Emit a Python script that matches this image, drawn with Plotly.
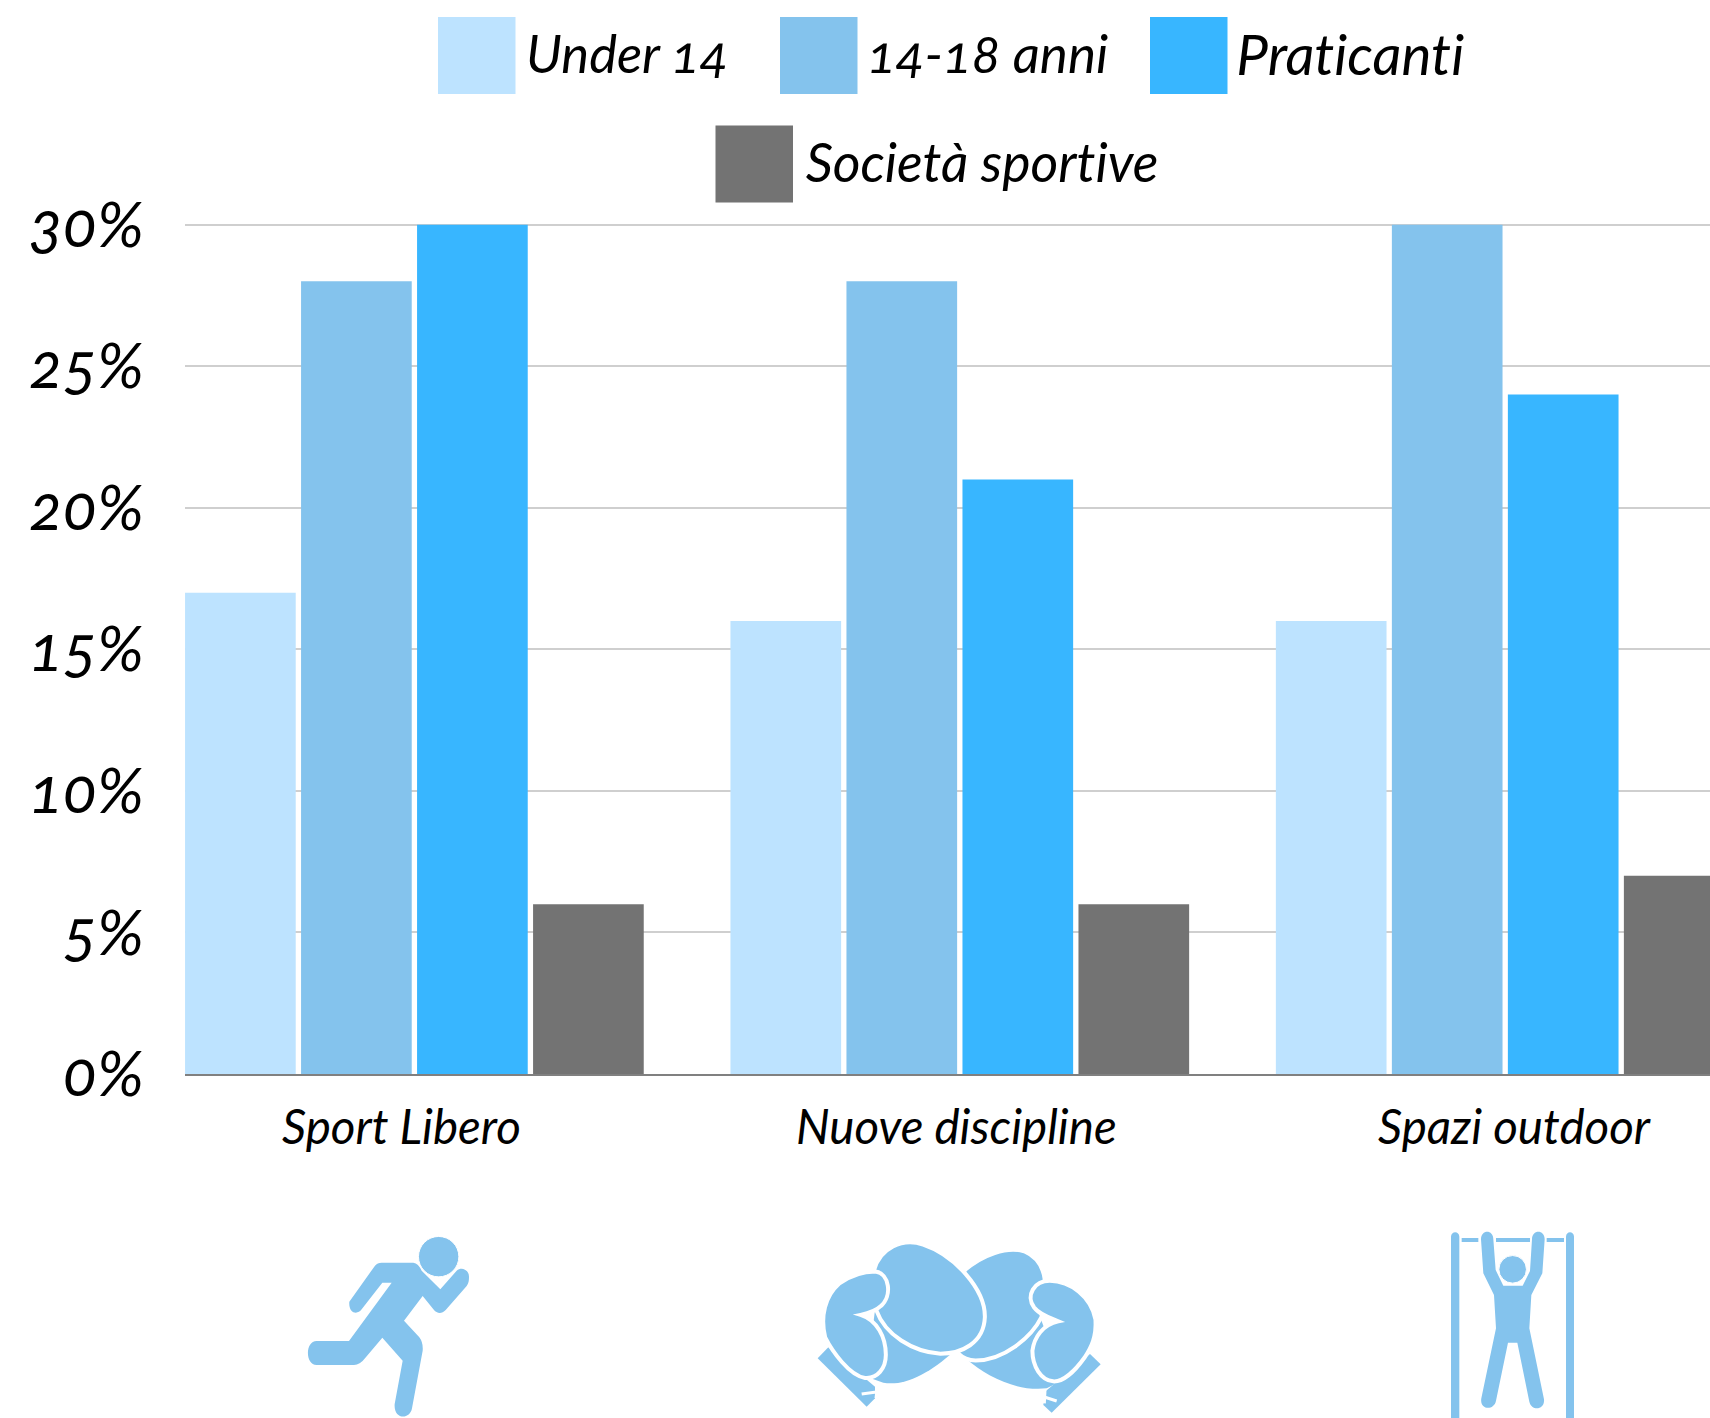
import re
import plotly.graph_objects as go

W, H = 1710, 1418

# ---- data -------------------------------------------------------------
categories = ["Sport Libero", "Nuove discipline", "Spazi outdoor"]
series_names = ["Under 14", "14-18 anni", "Praticanti", "Società sportive"]
under14 = [17, 16, 16]
anni14_18 = [28, 28, 30]
praticanti = [30, 21, 24]
societa = [6, 6, 7]
series_values = [under14, anni14_18, praticanti, societa]
colors = ["#BDE3FF", "#84C3ED", "#38B6FF", "#737373"]
y_ticks = [0, 5, 10, 15, 20, 25, 30]
y_labels = ["0%", "5%", "10%", "15%", "20%", "25%", "30%"]

FONT = "Lato"
ICON = "#84C3ED"


def px(x):
    return x / W


def py(y):
    return 1 - y / H


def path(d, ox, oy, s=3.0, grow=1.0):
    toks = re.findall(r"[MLCQZ]|-?\d+\.?\d*", d)
    nums = [float(t) for t in toks if t not in "MLCQZ"]
    cx = sum(nums[0::2]) / (len(nums) / 2)
    cy = sum(nums[1::2]) / (len(nums) / 2)
    out, isx = [], True
    for t in toks:
        if t in "MLCQZ":
            out.append(t)
            isx = True
        elif isx:
            v = cx + (float(t) - cx) * grow
            out.append(f"{px(ox + v / s):.6f},")
            isx = False
        else:
            v = cy + (float(t) - cy) * grow
            out.append(f"{py(oy + v / s):.6f}")
            isx = True
    return " ".join(out).replace(", ", ",")


shapes = []


def blob(d, ox, oy, stroke=None, sw=0):
    grow = 1.04 if stroke else 1.0
    shapes.append(dict(type="path", xref="paper", yref="paper", path=path(d, ox, oy, grow=grow),
                       fillcolor=ICON, line=dict(color=stroke or ICON, width=sw if stroke else 0)))


def lace(d, ox, oy, sw=3):
    shapes.append(dict(type="path", xref="paper", yref="paper", path=path(d, ox, oy),
                       line=dict(color="white", width=sw)))


def disc(cx, cy, r):
    shapes.append(dict(type="circle", xref="paper", yref="paper", x0=px(cx - r), x1=px(cx + r),
                       y0=py(cy + r), y1=py(cy - r), fillcolor=ICON, line=dict(color="white", width=1)))


def box(x0, y0, x1, y1):
    shapes.append(dict(type="rect", xref="paper", yref="paper", x0=px(x0), x1=px(x1),
                       y0=py(y1), y1=py(y0), fillcolor=ICON, line=dict(width=0)))


# runner icon
ox, oy = 280, 1200
blob("M 245 328 C 232 346 205 340 208 305 L 285 197 Q 292 188 305 188 L 400 188 Q 415 190 425 212 "
     "L 481 268 L 530 212 C 545 198 567 210 567 230 C 567 245 565 250 560 258 L 497 330 "
     "C 485 343 470 340 462 330 L 428 288 L 372 362 L 418 412 Q 430 428 428 452 L 396 625 "
     "C 390 660 340 660 344 612 L 368 482 L 307 413 L 255 475 Q 240 495 222 495 L 110 495 "
     "C 75 495 75 423 110 423 L 207 423 L 335 248 L 307 248 Z", ox, oy)
disc(280 + 476 / 3, 1200 + 170 / 3, 20.2)

# boxing gloves icon
ox, oy = 790, 1210
# right glove first
blob("M 900 432 L 932 463 L 785 608 L 760 585 L 765 545 Z", ox, oy)
blob("M 530 448 C 590 500 680 545 770 535 L 820 510 L 750 320 L 600 400 Z", ox, oy)
blob("M 528 185 C 580 140 650 115 700 130 C 735 145 755 170 760 215 L 750 320 "
     "C 720 380 640 445 560 445 C 540 445 520 435 510 425 Z", ox, oy, "white", 4)
blob("M 780 218 C 840 218 900 265 912 330 C 915 380 900 410 880 440 C 855 475 820 510 790 508 "
     "C 755 505 730 465 730 420 C 735 380 760 345 805 335 C 780 325 750 315 735 295 "
     "C 710 260 735 218 780 218 Z", ox, oy, "white", 4)
lace("M 735 552 L 800 573", ox, oy)
lace("M 765 540 L 763 580", ox, oy)
# left glove
blob("M 115 412 L 83 445 L 230 590 L 255 565 L 255 530 Z", ox, oy)
blob("M 255 300 L 490 425 C 420 490 340 530 280 518 L 230 500 Z", ox, oy)
blob("M 258 185 C 275 120 340 90 400 110 C 490 140 580 240 578 320 C 575 395 510 425 450 425 "
     "C 370 420 290 370 265 300 Z", ox, oy, "white", 4)
blob("M 255 190 C 295 195 305 260 270 290 C 255 305 235 310 212 315 C 260 330 285 380 285 430 "
     "C 285 470 260 500 225 497 C 180 490 130 420 110 380 C 95 320 110 260 150 225 "
     "C 185 200 225 190 255 190 Z", ox, oy, "white", 4)
lace("M 215 552 L 265 545", ox, oy)
lace("M 262 530 L 258 565", ox, oy)

# pull-up icon
ox, oy = 1420, 1210
blob("M 93 80 C 93 62 118 62 118 80 L 118 624 L 93 624 Z", ox, oy)
blob("M 438 80 C 438 62 462 62 462 80 L 462 624 L 438 624 Z", ox, oy)
for a, b in [(125, 175), (228, 330), (380, 432)]:
    box(ox + a / 3, oy + 84 / 3, ox + b / 3, oy + 96 / 3)
blob("M 183 88 C 183 58 220 58 220 88 L 227 180 L 250 227 L 308 227 L 330 183 L 336 88 "
     "C 336 58 374 58 374 88 L 367 190 L 334 255 L 328 355 L 372 568 C 375 600 335 605 328 575 "
     "L 292 398 L 264 398 L 228 572 C 222 603 178 600 184 565 L 228 355 L 222 255 L 190 190 Z", ox, oy)
disc(ox + 278 / 3, oy + 178 / 3, 13.8)

# ---- traces ------------------------------------------------------------
fig = go.Figure()
for name, vals, col in zip(series_names, series_values, colors):
    fig.add_trace(go.Bar(x=categories, y=vals, name=name, marker=dict(color=col, line=dict(width=0))))

# ---- legend drawn by hand (wrapped, centred rows) ----------------------
legend_swatch_x = [438, 780, 1150, 715.5]
legend_label_x = [522, 861, 1235, 804]
legend_font_size = [52.5, 53, 56.5, 53.5]
legend_row_y = [55.5, 55.5, 55.5, 164]
annotations = []
for name, col, sx, lx, fs, ry in zip(series_names, colors, legend_swatch_x, legend_label_x, legend_font_size, legend_row_y):
    shapes.append(dict(type="rect", xref="paper", yref="paper", x0=px(sx), x1=px(sx + 77.5),
                       y0=py(ry + 38.5), y1=py(ry - 38.5), fillcolor=col, line=dict(width=0)))
    annotations.append(dict(xref="paper", yref="paper", x=px(lx), y=py(ry - 3), text=name, showarrow=False,
                            xanchor="left", yanchor="middle",
                            font=dict(family=FONT, size=fs, style="italic", color="black")))

# category labels (sit slightly off the bar-group centres)
label_shift = [-13, -3, 9]
for cat, shift in zip(categories, label_shift):
    annotations.append(dict(xref="x", yref="paper", x=cat, y=py(1125), xshift=shift, text=cat, showarrow=False,
                            xanchor="center", yanchor="middle",
                            font=dict(family=FONT, size=47.5, style="italic", color="black")))

# axis top runs a hair past 30 so the 30% gridline is drawn
Y_TOP = 30.06
top_px = 1074 - (1074 - 224.7) * Y_TOP / 30

fig.update_layout(
    width=W, height=H, margin=dict(l=0, r=0, t=0, b=0), autosize=False,
    paper_bgcolor="white", plot_bgcolor="white", showlegend=False,
    barmode="group", bargap=0.1492, bargroupgap=0.046,
    shapes=shapes, annotations=annotations,
    xaxis=dict(domain=[px(185), 1], range=[-0.4206, 2.3755], showticklabels=False, ticks="", automargin=False,
               showgrid=False, zeroline=False, showline=True, linecolor="#808080", linewidth=1.5,
               categoryorder="array", categoryarray=categories),
    yaxis=dict(domain=[py(1074), py(top_px)], range=[0, Y_TOP], tickvals=y_ticks, ticktext=y_labels, automargin=False,
               tickfont=dict(family=FONT, size=63, style="italic", color="black"),
               ticklabelstandoff=40, ticks="", showline=False, zeroline=False,
               showgrid=True, gridcolor="#cfcfcf", gridwidth=1.5),
)

fig.write_html(
    "out.html",
    config=dict(displayModeBar=False),
    post_script="document.body.style.margin='0';document.body.style.overflow='hidden';"
                "var st=document.createElement('style');"
                "st.textContent='svg text{font-feature-settings:\"onum\" 1,\"liga\" 0;font-variant-numeric:oldstyle-nums;font-variant-ligatures:none;}';"
                "document.head.appendChild(st);",
)
